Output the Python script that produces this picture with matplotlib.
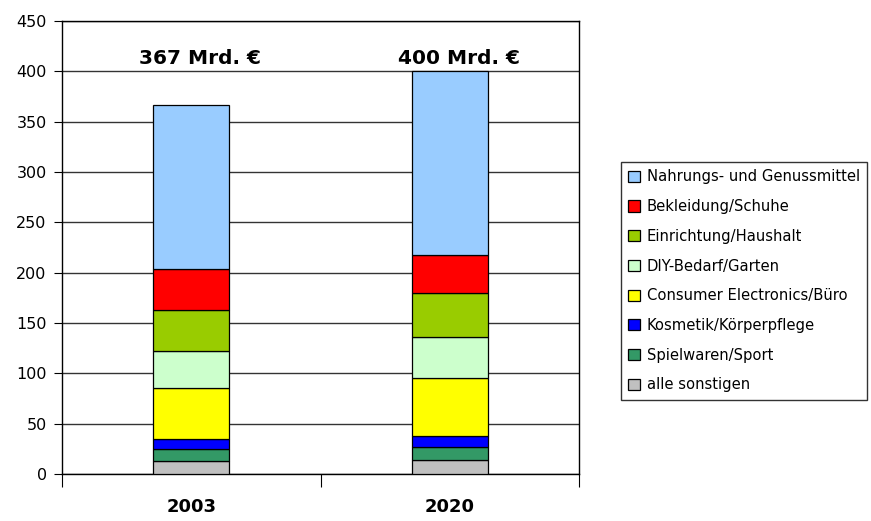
import numpy as np
import matplotlib.pyplot as plt

# Umsatz nach Warengruppen (Mrd. €)
years = ['2003', '2020']
totals = ['367 Mrd. €', '400 Mrd. €']
categories = ['alle sonstigen', 'Spielwaren/Sport', 'Kosmetik/Körperpflege',
              'Consumer Electronics/Büro', 'DIY-Bedarf/Garten',
              'Einrichtung/Haushalt', 'Bekleidung/Schuhe',
              'Nahrungs- und Genussmittel']
values_2003 = [12.5, 12, 10, 51, 37, 40, 41, 163.5]
values_2020 = [14, 13, 11, 57, 41, 43.5, 38.5, 182]
colors = ['#C0C0C0', '#339966', '#0000FF', '#FFFF00', '#CCFFCC',
          '#99CC00', '#FF0000', '#99CCFF']

plt.rcParams['font.family'] = ['DejaVu Sans']

fig = plt.figure(figsize=(8.71, 5.21), dpi=100)
ax = fig.add_axes([62/871, 1 - 474/521, (579 - 62)/871, (474 - 21)/521])

x = np.arange(len(years))
data = np.array([values_2003, values_2020]).T
bottom = np.zeros(len(years))
handles = []
for vals, col, name in zip(data, colors, categories):
    h = ax.bar(x, vals, 0.295, bottom=bottom, color=col, edgecolor='black',
               linewidth=0.9, label=name, zorder=3)
    handles.append(h)
    bottom += vals

for xi, lab in zip(x, totals):
    ax.text(xi + 0.035, 413, lab, ha='center', va='center',
            fontsize=14.5, fontweight='bold')

ax.set_xlim(-0.5, 1.5)
ax.set_ylim(0, 450)
ax.set_yticks(np.arange(0, 451, 50))
ax.yaxis.grid(True, color='#333333', linewidth=1)
ax.tick_params(axis='y', labelsize=11.5, length=6, direction='out', pad=5)

# Kategoriegrenzen als Ticks, Jahreszahlen als Minor-Labels
ax.set_xticks([-0.5, 0.5, 1.5])
ax.set_xticklabels([])
ax.tick_params(axis='x', which='major', length=9, direction='out')
ax.set_xticks(x, minor=True)
ax.set_xticklabels(years, minor=True, fontsize=13, fontweight='bold')
ax.tick_params(axis='x', which='minor', length=0, pad=17)

for s in ax.spines.values():
    s.set_color('black')
    s.set_linewidth(1)

leg = fig.legend(handles[::-1], categories[::-1], loc='upper left',
                 bbox_to_anchor=(621/871, 1 - 162/521), fontsize=10.6,
                 frameon=True, fancybox=False, handlelength=0.8,
                 handleheight=0.8, handletextpad=0.45, labelspacing=1.0,
                 borderpad=0.5, borderaxespad=0)
leg.get_frame().set_edgecolor('black')
leg.get_frame().set_linewidth(1)

fig.savefig('out.png', dpi=100)
